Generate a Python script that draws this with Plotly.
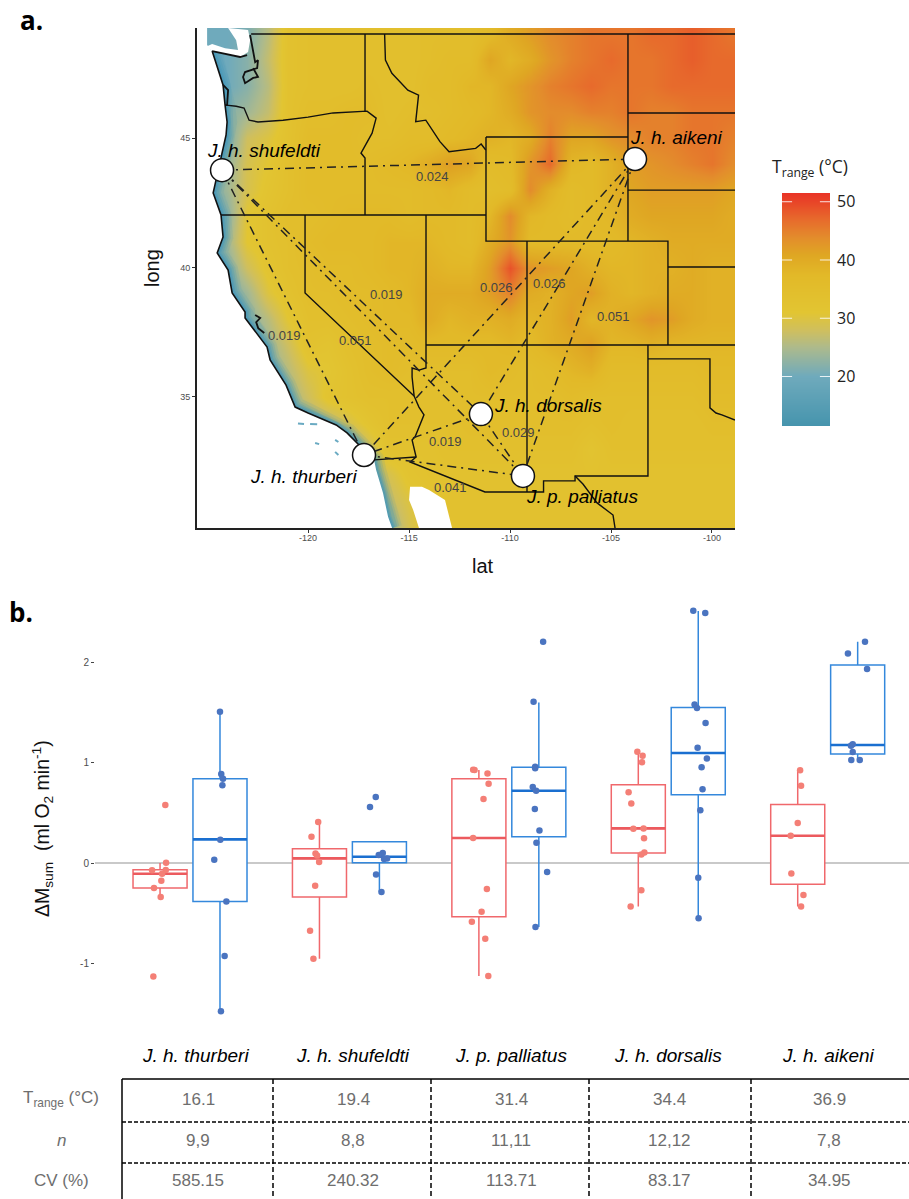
import plotly.graph_objects as go

# ---------- Panel a: temperature range surface (deg C)
grid_lons = list(range(-125, -98))
grid_lats = [49, 48, 47, 46, 45, 44, 43, 42, 41, 40, 39, 38, 37, 36, 35, 34, 33, 32, 31, 30]
t_49 = [20,20,21,26,33,34,34,34,34,34,34,35,35,35,37,40,42,44,45,46,46,46,47,47,48,47,46]
t_48 = [20,20,22,27,33,34,34,34,34,34,34,35,36,36,41,38,40,43,45,46,47,46,46,47,48,47,47]
t_47 = [20,20,22,26,33,34,34,34,35,34,34,36,36,38,38,41,43,45,46,47,46,46,46,47,47,47,47]
t_46 = [20,22,24,27,33,35,35,36,36,34,35,35,36,37,38,40,43,44,44,45,45,46,45,45,46,46,46]
t_45 = [20,21,28,30,33,36,36,36,35,35,36,36,37,38,39,38,40,45,41,41,43,44,45,45,46,46,45]
t_44 = [20,23,29,31,34,36,36,36,36,37,38,40,42,41,36,37,43,47,38,37,39,42,43,44,45,46,44]
t_43 = [20,24,29,32,34,36,36,36,36,36,36,37,38,36,35,36,44,39,36,37,39,41,42,42,42,42,41]
t_42 = [20,22,31,33,35,35,36,37,37,37,36,37,37,36,38,44,38,37,36,37,38,40,41,41,41,41,40]
t_41 = [20,24,31,33,34,36,37,37,37,38,38,38,37,36,40,43,37,37,37,37,37,38,39,40,40,40,40]
t_40 = [20,22,28,32,34,35,36,36,37,38,38,39,38,38,42,49,43,42,41,39,38,38,39,39,40,39,39]
t_39 = [20,20,24,30,33,35,35,36,36,37,38,40,40,40,42,45,40,39,41,42,39,38,39,40,40,39,39]
t_38 = [20,20,22,26,31,34,34,35,36,37,37,40,38,39,39,40,38,39,42,38,39,41,43,42,40,39,39]
t_37 = [20,20,20,24,28,33,32,34,35,36,36,37,37,37,37,38,37,39,40,42,38,38,39,38,38,38,38]
t_36 = [20,20,20,22,26,30,31,33,35,36,35,35,35,35,37,36,35,36,38,39,36,36,36,36,36,37,37]
t_35 = [20,20,20,20,24,28,32,33,34,34,34,34,34,35,35,35,35,35,36,35,35,35,35,35,35,36,36]
t_34 = [20,20,20,20,20,24,26,29,32,34,34,34,34,35,35,35,35,35,35,34,35,34,34,34,34,35,35]
t_33 = [20,20,20,20,20,20,20,22,28,33,33,33,34,34,34,34,34,34,34,32,34,34,34,34,34,34,34]
t_32 = [20,20,20,20,20,20,20,20,26,29,32,33,33,33,33,33,33,33,33,33,33,33,33,33,33,33,33]
t_31 = [20,20,20,20,20,20,20,20,22,27,30,32,33,33,33,33,33,33,33,33,33,33,33,33,33,33,33]
t_30 = [20,20,20,20,20,20,20,20,20,24,29,32,33,33,33,33,33,33,33,33,33,33,33,33,33,33,33]
t_grid = [t_49,t_48,t_47,t_46,t_45,t_44,t_43,t_42,t_41,t_40,t_39,t_38,t_37,t_36,t_35,t_34,t_33,t_32,t_31,t_30]

coast_lon = [-124.75,-124.50,-124.21,-124.11,-124.01,-124.06,-124.36,-124.70,-124.31,-124.21,-124.50,-123.96,-123.76,-123.12,-123.12,-122.03,-121.88,-121.09,-120.64,-120.0,-118.61,-118.07,-117.38,-116.73]
coast_lat = [48.36,47.74,47.05,46.27,45.62,45.12,44.03,42.88,42.03,41.18,40.56,39.90,39.02,38.28,38.05,36.93,36.43,35.46,34.61,34.38,33.92,33.61,33.07,32.57]
baja_lon = [-116.63,-116.29,-116.04,-115.84]
baja_lat = [32.18,31.29,30.37,29.94]
strait_lon = [-125.0,-124.75,-124.11,-123.37,-122.97,-122.87,-122.97,-123.96,-123.56,-123.47,-124.11,-124.75]
strait_lat = [48.55,48.36,48.24,48.13,48.32,48.78,49.17,49.25,48.78,48.40,48.47,48.63]
gulf_lon = [-114.95,-114.36,-114.01,-113.22,-112.87,-114.51,-114.80,-115.0]
gulf_lat = [31.53,31.53,31.41,31.02,29.94,29.94,30.64,31.02]
island_lon = [-120.50,-120.2,None,-119.9,-119.55,None,-119.65,-119.45,None,-118.66,-118.5,None,-118.66,-118.5]
island_lat = [33.98,33.96,None,33.96,33.95,None,33.22,33.18,None,33.34,33.26,None,32.88,32.76]
sound_lon = [-124.75,-124.11,-123.37,-123.02,None,-122.87,-122.77,-122.72,-122.62,-122.48,-122.52,-123.12,-123.22,-123.12,-122.72,-122.48,-122.72,None,-124.21,-123.96,-124.01,-124.11,None,-122.62,-122.37,-122.57,-122.47,-122.17]
sound_lat = [48.36,48.24,48.13,48.20,None,48.98,48.59,48.28,47.93,48.01,47.70,47.55,47.36,47.12,47.32,47.36,47.70,None,47.05,46.85,46.27,46.27,None,38.17,38.05,37.89,37.66,37.47]

border_lon = [-122.82,-98.86,None,-117.18,-117.18,None,
    -124.06,-123.56,-123.17,-122.92,-122.48,-121.24,-120.0,-118.76,-117.08,-116.63,-116.83,-117.38,-117.18,-117.18,-117.18,None,
    -116.21,-116.17,-115.85,-115.06,-114.53,-114.67,-114.17,-113.47,-113.02,-111.70,-111.43,-111.20,None,
    -111.19,-104.16,None,-111.19,-111.19,-102.18,-102.18,None,-104.16,-104.16,None,
    -104.16,-98.86,None,-104.16,-98.86,None,-124.31,-111.19,None,
    -109.16,-109.16,None,-102.18,-98.86,None,-114.16,-98.86,None,
    -120.15,-120.15,-114.75,None,
    -114.16,-114.16,-114.16,-114.51,-114.85,-114.85,-114.75,-114.51,-114.26,-114.70,-114.85,-114.65,-114.95,-111.24,-108.34,-108.34,-106.78,-106.78,-103.17,-103.17,None,
    -116.73,-114.65,None,-106.78,-106.39,-105.69,-104.90,-104.80,None,
    -103.17,-100.10,-100.10,-99.80,-99.51,-99.21,-98.86]
border_lat = [49.02,49.02,None,49.02,46.04,None,
    46.27,46.23,46.16,45.69,45.62,45.69,45.81,45.97,46.04,45.77,45.19,44.42,44.23,43.88,42.03,None,
    49.02,48.01,47.50,46.85,46.66,45.63,45.69,44.86,44.47,44.60,44.77,44.54,None,
    45.04,45.04,None,45.04,41.02,41.02,37.01,None,41.02,49.02,None,
    45.97,45.97,None,42.99,42.99,None,42.03,42.03,None,
    41.02,31.33,None,40.02,40.02,None,37.01,37.01,None,
    42.03,39.02,35.04,None,
    42.03,37.01,36.12,36.04,36.12,35.77,35.04,34.61,34.31,33.46,33.34,32.68,32.49,31.33,31.33,31.76,31.76,31.95,31.95,37.01,None,
    32.57,32.68,None,31.95,31.64,30.91,30.44,29.94,None,
    36.47,36.47,34.58,34.38,34.31,34.23,34.11]

site_names = ["J. h. shufeldti", "J. h. aikeni", "J. h. dorsalis", "J. h. thurberi", "J. p. palliatus"]
site_lon = [-124.26, -103.81, -111.44, -117.23, -109.36]
site_lat = [43.76, 44.19, 34.34, 32.76, 31.95]
site_links = [(0,1),(0,2),(0,3),(0,4),(1,2),(1,3),(1,4),(2,3),(2,4),(3,4)]
link_values = ["0.024","0.019","0.026","0.026","0.051","0.019","0.051","0.019","0.029","0.041"]

x_ticks = [-120,-115,-110,-105,-100]
y_ticks = [35,40,45]
cbar_ticks = [20,30,40,50]
cbar_levels = [11.5,15,20,25,28,31,35,37.5,40,41,44,47,50,51.5]

# ---------- Panel b
species = ["J. h. thurberi","J. h. shufeldti","J. p. palliatus","J. h. dorsalis","J. h. aikeni"]
red_q1 = [-0.249,-0.339,-0.535,0.100,-0.212]
red_med = [-0.106,0.046,0.249,0.345,0.272]
red_q3 = [-0.066,0.143,0.840,0.780,0.584]
red_low = [-0.339,-0.953,-1.125,-0.432,-0.432]
red_up = [0.0,0.408,0.926,1.109,0.923]
blue_q1 = [-0.382,0.003,0.262,0.681,1.086]
blue_med = [0.236,0.063,0.720,1.096,1.175]
blue_q3 = [0.840,0.212,0.953,1.550,1.972]
blue_low = [-1.477,-0.289,-0.637,-0.551,1.026]
blue_up = [1.507,0.212,1.600,2.510,2.205]

red_y = [
 [0.578,0.003,-0.073,-0.070,-0.106,-0.176,-0.249,-0.339,-1.129],
 [0.408,0.262,0.096,0.076,0.010,-0.226,-0.674,-0.953],
 [0.930,0.926,0.893,0.790,0.637,0.249,-0.259,-0.485,-0.584,-0.754,-1.125],
 [1.109,1.069,1.003,0.704,0.594,0.342,0.345,0.246,0.106,0.086,-0.272,-0.432],
 [0.923,0.770,0.398,0.272,-0.103,-0.319,-0.432]]
red_jit = [
 [.033,.038,-.050,.036,.013,.008,-.038,.004,-.042],
 [-.008,-.050,-.025,-.015,-.002,-.027,-.059,-.038],
 [-.036,-.027,.054,.061,.029,-.036,.050,.017,-.044,.040,.059],
 [-.006,.027,.023,-.061,-.044,-.031,.033,.036,.038,.019,.019,-.048],
 [.015,.021,0,-.044,-.040,.036,.021]]
blue_y = [
 [1.507,0.886,0.840,0.774,0.232,0.033,-0.382,-0.926,-1.477],
 [0.657,0.558,0.100,0.080,0.046,0.040,-0.113,-0.289],
 [2.205,1.607,0.959,0.943,0.757,0.720,0.538,0.325,0.203,-0.090,-0.637],
 [2.513,2.490,1.580,1.544,1.394,1.149,1.042,0.953,0.734,0.525,-0.146,-0.551],
 [2.205,2.088,1.932,1.182,1.169,1.106,1.026,1.026]]
blue_jit = [
 [0,.008,.019,.015,.002,-.036,.040,.029,.006],
 [-.023,-.059,.021,-.004,.048,.029,-.021,.013],
 [.027,-.033,-.023,-.023,-.038,-.017,-.025,.004,-.015,.052,-.021],
 [-.031,.044,-.023,-.008,.046,-.004,.054,.021,.027,.013,0,.002],
 [.046,-.061,.059,-.031,-.042,-.031,-.040,.013]]

row_labels = ["T<sub>range</sub> (°C)", "<i>n</i>", "CV (%)"]
t_range = ["16.1","19.4","31.4","34.4","36.9"]
n_vals = ["9,9","8,8","11,11","12,12","7,8"]
cv_vals = ["585.15","240.32","113.71","83.17","34.95"]

# ---------- layout helpers (pixels of the 909x1199 page to paper fractions)
W, H = 909, 1199
def px(x): return x / W
def py(y): return 1 - y / H

SANS = "Liberation Sans"
colorscale = [[0,"#4594ad"],[0.2125,"#6faabc"],[0.3375,"#adba8c"],[0.4125,"#cfbf5e"],[0.4875,"#e2c532"],
              [0.65,"#e2b928"],[0.7375,"#dfa623"],[0.8125,"#e38c2c"],[0.8875,"#e76a2c"],[1,"#e93426"]]
Z_MIN, Z_MAX = 11.5, 51.5

fig = go.Figure()
fig.add_trace(go.Heatmap(x=grid_lons, y=grid_lats, z=t_grid, zsmooth="best", colorscale=colorscale,
    zmin=Z_MIN, zmax=Z_MAX, hoverinfo="skip", showscale=False))

band_lon = coast_lon + baja_lon
band_lat = coast_lat + baja_lat
for w, a in [(20,0.12),(15,0.18),(11,0.25),(7,0.35),(4,0.5)]:
    fig.add_trace(go.Scatter(x=band_lon, y=band_lat, mode="lines", hoverinfo="skip",
        line=dict(color=f"rgba(65,150,185,{a})", width=w)))

ocean_lon = [-125.5,-125.0,-125.0] + band_lon + [-125.5]
ocean_lat = [49.25,49.25,48.59] + band_lat + [29.94]
for xs, ys in [(ocean_lon, ocean_lat),(strait_lon, strait_lat),(gulf_lon, gulf_lat)]:
    fig.add_trace(go.Scatter(x=xs, y=ys, mode="lines", fill="toself", fillcolor="white",
        line=dict(width=0, color="white"), hoverinfo="skip"))

fig.add_trace(go.Scatter(x=island_lon, y=island_lat, mode="lines", line=dict(color="#6aaac2", width=2), hoverinfo="skip"))
fig.add_trace(go.Scatter(x=border_lon, y=border_lat, mode="lines", line=dict(color="#111", width=1.4), hoverinfo="skip"))
fig.add_trace(go.Scatter(x=coast_lon, y=coast_lat, mode="lines", line=dict(color="#111", width=1.6), hoverinfo="skip"))
fig.add_trace(go.Scatter(x=sound_lon, y=sound_lat, mode="lines", line=dict(color="#111", width=1.8), hoverinfo="skip"))

for a, b in site_links:
    fig.add_trace(go.Scatter(x=[site_lon[a], site_lon[b]], y=[site_lat[a], site_lat[b]], mode="lines",
        line=dict(color="#222", width=1.5, dash="9px,5px,2px,5px"), hoverinfo="skip"))
fig.add_trace(go.Scatter(x=site_lon, y=site_lat, mode="markers", hoverinfo="skip",
    marker=dict(size=23, color="white", line=dict(color="#111", width=1.5))))

# Colour key on its own value axis
fig.add_trace(go.Heatmap(x=[0,1], y=cbar_levels, z=[[v, v] for v in cbar_levels], zsmooth="best",
    colorscale=colorscale, zmin=Z_MIN, zmax=Z_MAX, showscale=False, hoverinfo="skip", xaxis="x3", yaxis="y3"))
tx, ty = [], []
for t in cbar_ticks:
    tx += [0, 0.21, None, 0.79, 1, None]
    ty += [t, t, None, t, t, None]
fig.add_trace(go.Scatter(x=tx, y=ty, mode="lines", line=dict(color="rgba(255,255,255,0.85)", width=1),
    hoverinfo="skip", xaxis="x3", yaxis="y3"))

# Panel b
DODGE, BOX_W = 0.188, 0.339
cats = list(range(len(species)))
RED_L, RED_M, RED_D = "#f0686c", "#ec5a5e", "#f47f76"
BLUE_L, BLUE_M, BLUE_D = "#3488dc", "#1a6fd0", "#4a74c0"
for sign, col, mcol, q1, med, q3, lo, up in [(-1,RED_L,RED_M,red_q1,red_med,red_q3,red_low,red_up),
                                             (1,BLUE_L,BLUE_M,blue_q1,blue_med,blue_q3,blue_low,blue_up)]:
    pos = [c + sign*DODGE for c in cats]
    fig.add_trace(go.Box(x=pos, q1=q1, median=med, q3=q3, lowerfence=lo, upperfence=up, width=BOX_W,
        whiskerwidth=0, boxpoints=False, fillcolor="white", line=dict(color=col, width=1.5),
        xaxis="x2", yaxis="y2", hoverinfo="skip"))
    mx, my = [], []
    for p, m in zip(pos, med):
        mx += [p-BOX_W/2, p+BOX_W/2, None]
        my += [m, m, None]
    fig.add_trace(go.Scatter(x=mx, y=my, mode="lines", line=dict(color=mcol, width=2.6),
        xaxis="x2", yaxis="y2", hoverinfo="skip"))
for sign, col, ys, js in [(-1,RED_D,red_y,red_jit),(1,BLUE_D,blue_y,blue_jit)]:
    dx, dy = [], []
    for c in cats:
        for v, j in zip(ys[c], js[c]):
            dx.append(c + sign*DODGE + j)
            dy.append(v)
    fig.add_trace(go.Scatter(x=dx, y=dy, mode="markers", marker=dict(size=6.5, color=col),
        xaxis="x2", yaxis="y2", hoverinfo="skip"))

ann = []
def text(x, y, s, size=15, color="#000", family=SANS, angle=0, anchor="center"):
    ann.append(dict(xref="paper", yref="paper", x=px(x), y=py(y), text=s, showarrow=False, xanchor=anchor,
        yanchor="middle", textangle=angle, font=dict(family=family, size=size, color=color)))

text(31, 20, "<b>a.</b>", 26, family="Open Sans")
text(21, 612, "<b>b.</b>", 26, family="Open Sans")
text(152, 268, "long", 20, "#111", angle=-90)
text(483, 566, "lat", 20, "#111")
text(810, 167, "T<sub>range</sub> (°C)", 17.5, "#222", family="Open Sans")
text(42, 829, "ΔM<sub>sum</sub>  (ml O<sub>2</sub> min<sup>-1</sup>)", 19.5, "#111", angle=-90)

site_label_px = [(264,150),(676,138),(548,405),(303,476),(582,497)]
for name, (lx, ly) in zip(site_names, site_label_px):
    text(lx, ly, f"<i>{name}</i>", 19, "#000")
link_label_px = [(432,177),(386,294),(496,287),(549,283),(613,316),(284,336),(355,340),(445,441),(518,432),(450,488)]
for v, (lx, ly) in zip(link_values, link_label_px):
    text(lx, ly, v, 13, "#444")

col_px = [198, 353, 511, 669, 829]
head_px = [195, 353, 511, 668, 828]
row_px = [1099, 1140, 1180]
for hx, s in zip(head_px, species):
    text(hx, 1055, f"<i>{s}</i>", 19, "#000")
for ry, lab, vals in zip(row_px, row_labels, [t_range, n_vals, cv_vals]):
    text(61, ry, lab, 17, "#6e6e6e")
    for cx, v in zip(col_px, vals):
        text(cx, ry, v, 17, "#6e6e6e")

shapes = []
def seg(x0, y0, x1, y1, color="#000", width=1.5, dash="solid"):
    shapes.append(dict(type="line", xref="paper", yref="paper", x0=px(x0), y0=py(y0), x1=px(x1), y1=py(y1),
        line=dict(color=color, width=width, dash=dash)))
seg(122, 1079, 909, 1079)
seg(122, 1079, 122, 1199)
for yy in (1122, 1163):
    seg(122, yy, 909, yy, dash="4px,2px")
for xx in (273, 431, 589, 751):
    seg(xx, 1079, xx, 1199, dash="5px,3px")

fig.update_layout(width=W, height=H, autosize=False, margin=dict(l=0, r=0, t=0, b=0, pad=0, autoexpand=False),
    showlegend=False, paper_bgcolor="white", plot_bgcolor="white", annotations=ann, shapes=shapes, boxmode="overlay",
    xaxis=dict(domain=[px(197), px(735)], range=[-125.5, -98.86], anchor="y", tickvals=x_ticks,
        ticktext=[str(v) for v in x_ticks], showgrid=False, zeroline=False, showline=True, linecolor="#222",
        linewidth=2, ticks="outside", ticklen=3, tickcolor="#333", ticklabelstandoff=-3,
        tickfont=dict(family=SANS, size=9, color="#4d4d4d")),
    yaxis=dict(domain=[py(528), py(28)], range=[29.94, 49.25], anchor="x", tickvals=y_ticks, showgrid=False,
        zeroline=False, showline=True, linecolor="#222", linewidth=2, ticks="outside", ticklen=3, tickcolor="#333",
        tickfont=dict(family=SANS, size=9, color="#4d4d4d")),
    xaxis2=dict(domain=[px(95), 1], range=[-0.596, 4.51], anchor="y2", visible=False),
    yaxis2=dict(domain=[py(1030), py(600)], range=[-1.663, 2.62], anchor="x2", tickvals=[-1,0,1,2],
        ticktext=["-1","0","1","2"], showgrid=False, zeroline=True, zerolinecolor="#c9c9c9", zerolinewidth=1.5,
        showline=False, ticks="outside", ticklen=3, tickcolor="#444", tickfont=dict(family=SANS, size=10, color="#4d4d4d")),
    xaxis3=dict(domain=[px(782), px(830)], range=[0, 1], anchor="y3", visible=False),
    yaxis3=dict(domain=[py(426), py(193)], range=[Z_MIN, Z_MAX], anchor="x3", side="right", tickvals=cbar_ticks,
        showgrid=False, zeroline=False, showline=False, ticks="", ticklabelstandoff=6,
        tickfont=dict(family="Open Sans", size=16, color="#222")))

fig.write_html("out.html", config={"displayModeBar": False}, post_script="document.body.style.margin='0';")
